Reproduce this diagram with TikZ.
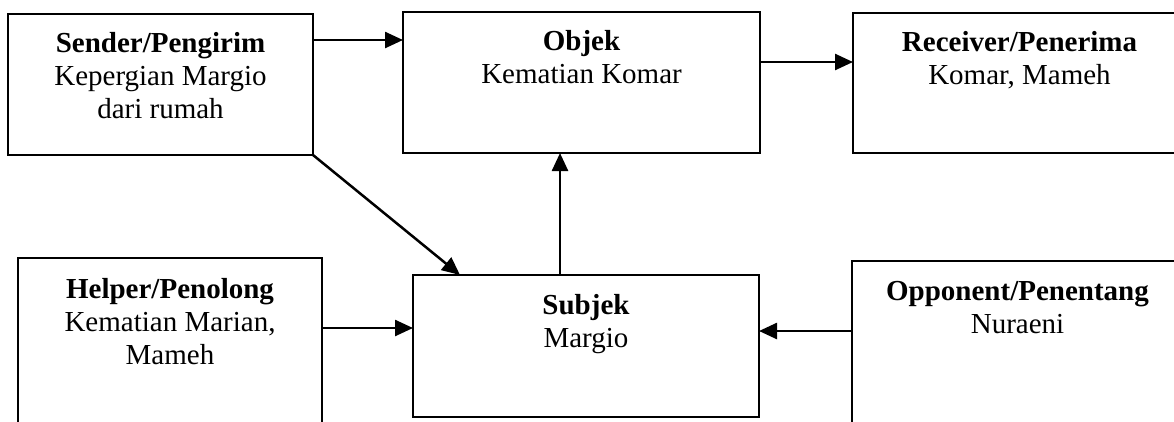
\documentclass[tikz,border=0pt]{standalone}
\usepackage{fontspec}
\setmainfont{Liberation Serif}
\usetikzlibrary{arrows.meta}

\begin{document}
\begin{tikzpicture}[x=1pt,y=-1pt,
  box/.style={draw, line width=2pt, rectangle, inner sep=0pt, outer sep=0pt,
              anchor=north west},
  txt/.style={align=center, anchor=base, inner sep=0pt,
              font=\fontsize{29}{33}\selectfont},
  arr/.style={line width=2.5pt, -{Triangle[length=18pt,width=16pt]}}]

\useasboundingbox (0,0) rectangle (1174,421);
\clip (0,0) rectangle (1174,421);

% frames of the six actants
\node[box, minimum width=305pt, minimum height=141pt] (sender)   at (8,14)    {};
\node[box, minimum width=357pt, minimum height=141pt] (objek)    at (403,12)  {};
\node[box, minimum width=333pt, minimum height=140pt] (receiver) at (853,13)  {};
\node[box, minimum width=304pt, minimum height=190pt] (helper)   at (18,258)  {};
\node[box, minimum width=346pt, minimum height=142pt] (subjek)   at (413,275) {};
\node[box, minimum width=331pt, minimum height=170pt] (opponent) at (852,261) {};

% labels (anchored at the baseline of their last line)
\node[txt] (tsender)   at (160.5,118) {\textbf{Sender/Pengirim}\\Kepergian Margio\\dari rumah};
\node[txt] (tobjek)    at (581.5,83) {\textbf{Objek}\\Kematian Komar};
\node[txt] (treceiver) at (1019.5,84) {\textbf{Receiver/Penerima}\\Komar, Mameh};
\node[txt] (thelper)   at (170,364) {\textbf{Helper/Penolong}\\Kematian Marian,\\Mameh};
\node[txt] (tsubjek)   at (586,347) {\textbf{Subjek}\\Margio};
\node[txt] (topponent) at (1017.5,333) {\textbf{Opponent/Penentang}\\Nuraeni};

% connectors
\draw[arr] (sender.east |- 0,40) -- (objek.west |- 0,40);
\draw[arr] (objek.east |- 0,62) -- (receiver.west |- 0,62);
\draw[arr] (subjek.north -| 560,0) -- (objek.south -| 560,0);
\draw[arr] (helper.east |- 0,328) -- (subjek.west |- 0,328);
\draw[arr] (opponent.west |- 0,331) -- (subjek.east |- 0,331);
\draw[arr] (sender.south east) -- (subjek.north -| 460,0);
\end{tikzpicture}
\end{document}
